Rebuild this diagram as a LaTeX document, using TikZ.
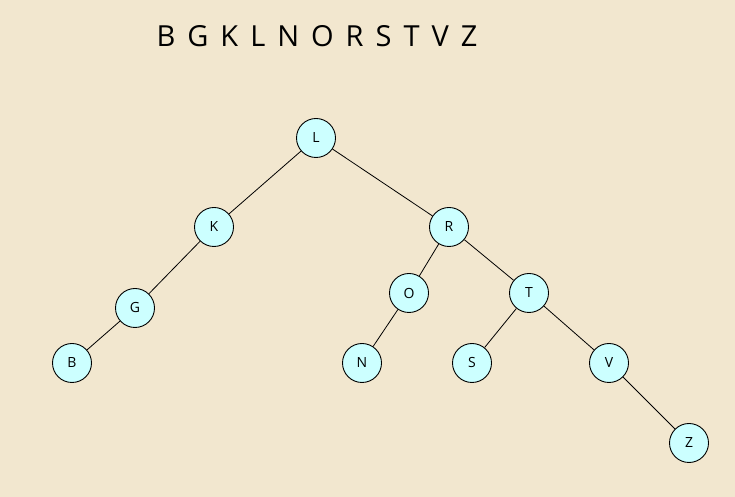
\documentclass[tikz,border=0pt]{standalone}
\usepackage{fontspec}
\setmainfont{Open Sans}
\usepackage{tikz}
\definecolor{paper}{HTML}{F2E7CF}
\definecolor{keyfill}{HTML}{CCFFFF}
\newcommand{\gap}{\hspace{12pt}}

\begin{document}
\begin{tikzpicture}[
    x=1pt, y=1pt,
    key/.style={draw, circle, fill=keyfill, line width=0.9pt, minimum size=39pt, inner sep=0pt, font=\fontsize{14}{14}\selectfont},
    link/.style={line width=0.8pt}
]
\fill[paper] (0,0) rectangle (735,497);
\useasboundingbox (0,0) rectangle (735,497);
\node[font=\fontsize{29}{29}\selectfont] (keys) at (317,461) {B\gap G\gap K\gap L\gap N\gap O\gap R\gap S\gap T\gap V\gap Z};
\node[key] (L) at (316,359) {L};
\node[key] (K) at (214,270) {K};
\node[key] (R) at (449,270) {R};
\node[key] (G) at (135,189) {G};
\node[key] (O) at (409,204) {O};
\node[key] (T) at (529,204) {T};
\node[key] (B) at (72,134) {B};
\node[key] (N) at (362,134) {N};
\node[key] (S) at (472,134) {S};
\node[key] (V) at (609,134) {V};
\node[key] (Z) at (689,54) {Z};
\draw[link] (L) -- (K);
\draw[link] (L) -- (R);
\draw[link] (K) -- (G);
\draw[link] (G) -- (B);
\draw[link] (R) -- (O);
\draw[link] (R) -- (T);
\draw[link] (O) -- (N);
\draw[link] (T) -- (S);
\draw[link] (T) -- (V);
\draw[link] (V) -- (Z);
\end{tikzpicture}
\end{document}
